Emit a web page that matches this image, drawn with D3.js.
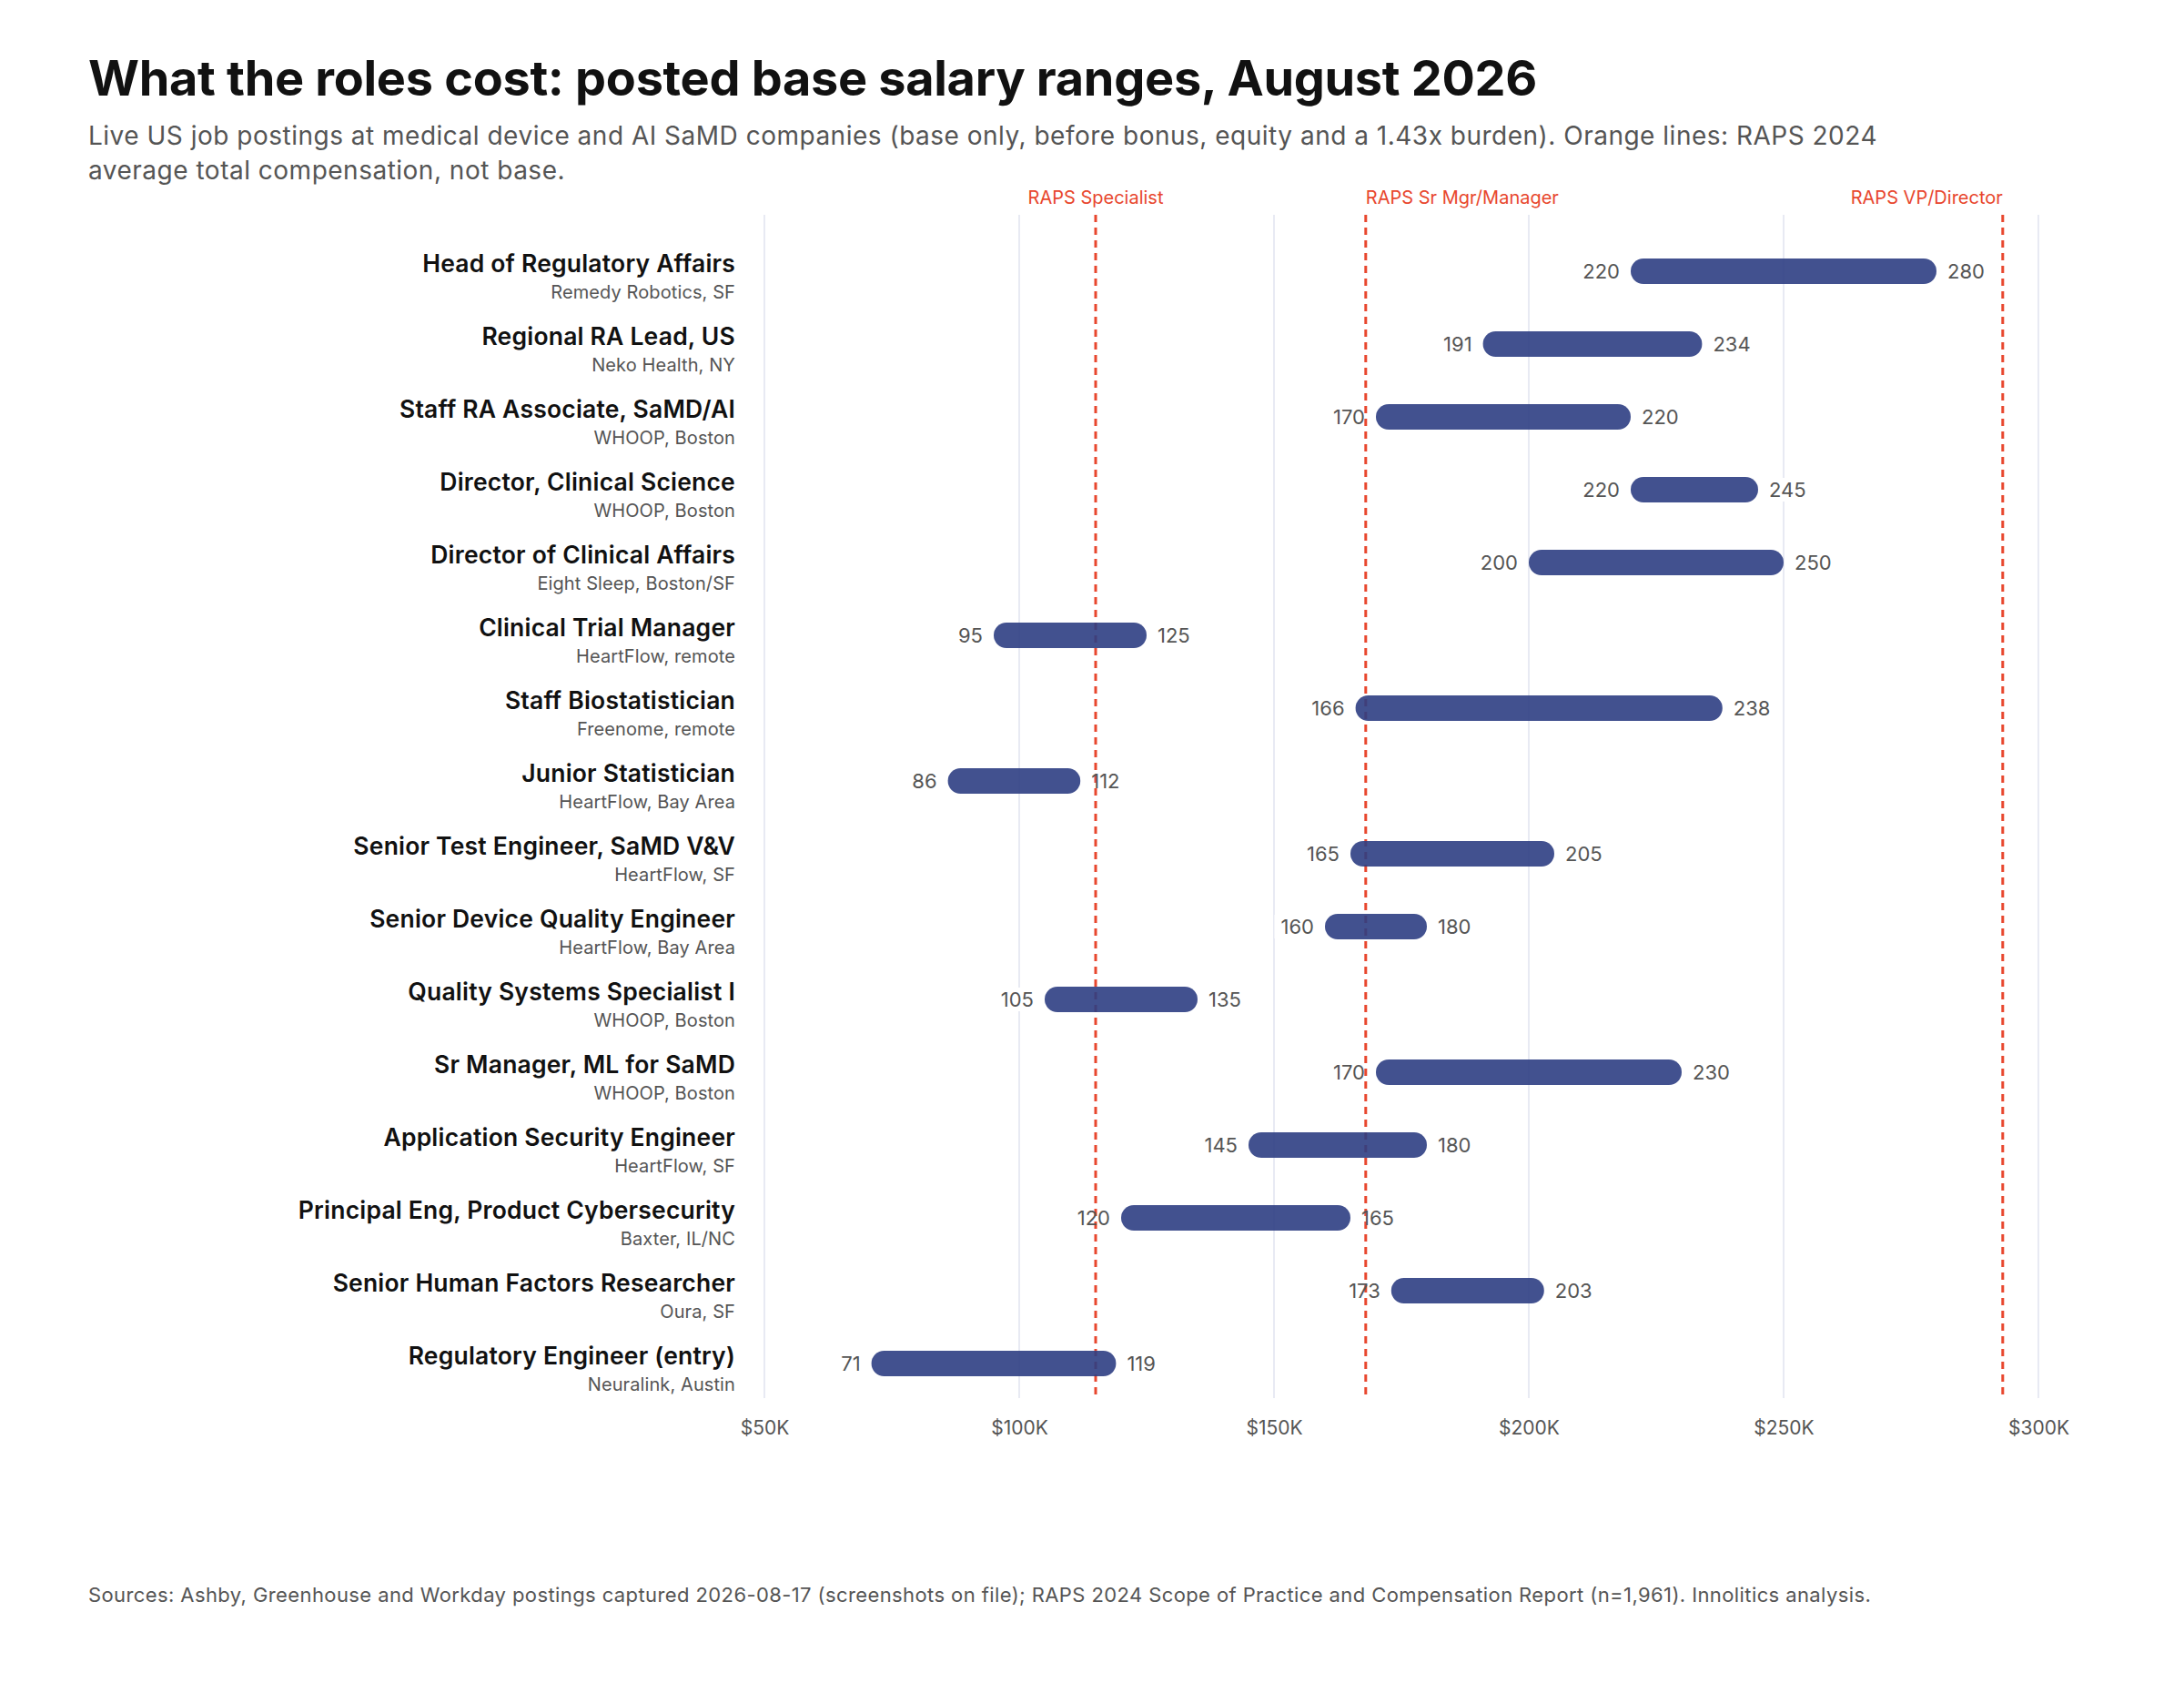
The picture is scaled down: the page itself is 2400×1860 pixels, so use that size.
<!DOCTYPE html>
<html>
<head>
<meta charset="utf-8">
<script src="https://cdn.jsdelivr.net/npm/d3@7"></script>
<style>
  html, body { margin: 0; padding: 0; background: #fff; }
  svg text { font-family: Inter, "Open Sans", sans-serif; }
</style>
</head>
<body>
<div id="chart"></div>
<script>
// roles, top to bottom
const roles = [
  "Head of Regulatory Affairs",
  "Regional RA Lead, US",
  "Staff RA Associate, SaMD/AI",
  "Director, Clinical Science",
  "Director of Clinical Affairs",
  "Clinical Trial Manager",
  "Staff Biostatistician",
  "Junior Statistician",
  "Senior Test Engineer, SaMD V&V",
  "Senior Device Quality Engineer",
  "Quality Systems Specialist I",
  "Sr Manager, ML for SaMD",
  "Application Security Engineer",
  "Principal Eng, Product Cybersecurity",
  "Senior Human Factors Researcher",
  "Regulatory Engineer (entry)"
];
const companies = [
  "Remedy Robotics, SF",
  "Neko Health, NY",
  "WHOOP, Boston",
  "WHOOP, Boston",
  "Eight Sleep, Boston/SF",
  "HeartFlow, remote",
  "Freenome, remote",
  "HeartFlow, Bay Area",
  "HeartFlow, SF",
  "HeartFlow, Bay Area",
  "WHOOP, Boston",
  "WHOOP, Boston",
  "HeartFlow, SF",
  "Baxter, IL/NC",
  "Oura, SF",
  "Neuralink, Austin"
];
// posted base salary, $K
const lows  = [220, 191, 170, 220, 200,  95, 166,  86, 165, 160, 105, 170, 145, 120, 173,  71];
const highs = [280, 234, 220, 245, 250, 125, 238, 112, 205, 180, 135, 230, 180, 165, 203, 119];

// RAPS 2024 average total compensation, $K
const rapsLabels = ["RAPS Specialist", "RAPS Sr Mgr/Manager", "RAPS VP/Director"];
const rapsValues = [115, 168, 293];

const xTicks = [50, 100, 150, 200, 250, 300];

const W = 2400, H = 1860;
const plotLeft = 840, plotRight = 2240, plotTop = 236, plotBottom = 1536;
const barH = 28;

const rows = roles.map((r, i) => ({role: r, company: companies[i], lo: lows[i], hi: highs[i]}));

const svg = d3.select("#chart").append("svg")
  .attr("width", W)
  .attr("height", H);

const x = d3.scaleLinear()
  .domain([50, 300])
  .range([plotLeft, plotRight]);

const y = d3.scaleBand()
  .domain(roles)
  .range([258, 1538]);

const cy = d => y(d.role) + y.bandwidth() / 2;

// title + subtitle
svg.append("text")
  .attr("x", 97).attr("y", 105)
  .attr("font-size", 54).attr("font-weight", 700)
  .attr("fill", "#111")
  .attr("letter-spacing", -0.3)
  .text("What the roles cost: posted base salary ranges, August 2026");

const sub = svg.append("text")
  .attr("font-size", 28).attr("fill", "#555")
  .attr("letter-spacing", 0.5);
sub.append("tspan").attr("x", 97).attr("y", 159)
  .text("Live US job postings at medical device and AI SaMD companies (base only, before bonus, equity and a 1.43x burden). Orange lines: RAPS 2024");
sub.append("tspan").attr("x", 97).attr("y", 197)
  .text("average total compensation, not base.");

// gridlines
svg.append("g")
  .selectAll("line")
  .data(xTicks)
  .join("line")
  .attr("x1", d => x(d)).attr("x2", d => x(d))
  .attr("y1", plotTop).attr("y2", plotBottom)
  .attr("stroke", "#e1e3ef")
  .attr("stroke-width", 1.5);

// x axis labels (no domain, no ticks)
const xAxis = svg.append("g")
  .attr("transform", `translate(0,${plotBottom})`)
  .call(d3.axisBottom(x).tickValues(xTicks).tickSize(0).tickPadding(25).tickFormat(d => "$" + d + "K"));
xAxis.select(".domain").remove();
xAxis.selectAll("text")
  .attr("font-size", 21)
  .attr("fill", "#555")
  .style("font-family", "Inter, sans-serif");

// role labels
const lab = svg.append("g").selectAll("g")
  .data(rows)
  .join("g");
lab.append("text")
  .attr("x", 808).attr("y", d => cy(d) + 1)
  .attr("text-anchor", "end")
  .attr("font-size", 26.5).attr("font-weight", 600)
  .attr("fill", "#111")
  .attr("letter-spacing", 0.2)
  .text(d => d.role);
lab.append("text")
  .attr("x", 808).attr("y", d => cy(d) + 30)
  .attr("text-anchor", "end")
  .attr("font-size", 20)
  .attr("fill", "#555")
  .attr("letter-spacing", 0.1)
  .text(d => d.company);

// value labels with white backing that hides gridlines
const valLabels = [];
rows.forEach(d => {
  valLabels.push({v: d.lo, x: x(d.lo) - 12, anchor: "end", y: cy(d)});
  valLabels.push({v: d.hi, x: x(d.hi) + 12, anchor: "start", y: cy(d)});
});
const bgG = svg.append("g");
const refG = svg.append("g");
const barG = svg.append("g");
const txtG = svg.append("g");

const vt = txtG.selectAll("text")
  .data(valLabels)
  .join("text")
  .attr("x", d => d.x).attr("y", d => d.y + 8)
  .attr("text-anchor", d => d.anchor)
  .attr("font-size", 22)
  .attr("fill", "#555")
  .text(d => d.v);

vt.each(function() {
  const b = this.getBBox();
  bgG.append("rect")
    .attr("x", b.x - 7).attr("y", b.y)
    .attr("width", b.width + 14).attr("height", b.height)
    .attr("fill", "#fff");
});

// RAPS reference lines
const anchors = ["middle", "start", "end"];
refG.selectAll("line")
  .data(rapsValues)
  .join("line")
  .attr("x1", d => x(d)).attr("x2", d => x(d))
  .attr("y1", plotTop).attr("y2", plotBottom)
  .attr("stroke", "#e8472e")
  .attr("stroke-width", 3)
  .attr("stroke-dasharray", "8,6");
refG.selectAll("text")
  .data(rapsValues)
  .join("text")
  .attr("x", d => x(d)).attr("y", 224)
  .attr("text-anchor", (d, i) => anchors[i])
  .attr("font-size", 20)
  .attr("fill", "#e8472e")
  .text((d, i) => rapsLabels[i]);

// range bars
barG.selectAll("rect")
  .data(rows)
  .join("rect")
  .attr("x", d => x(d.lo))
  .attr("y", d => cy(d) - barH / 2)
  .attr("width", d => x(d.hi) - x(d.lo))
  .attr("height", barH)
  .attr("rx", barH / 2)
  .attr("fill", "#2d3e83")
  .attr("fill-opacity", 0.9);

// footnote
svg.append("text")
  .attr("x", 97).attr("y", 1760)
  .attr("font-size", 22)
  .attr("fill", "#555")
  .attr("letter-spacing", 0.4)
  .text("Sources: Ashby, Greenhouse and Workday postings captured 2026-08-17 (screenshots on file); RAPS 2024 Scope of Practice and Compensation Report (n=1,961). Innolitics analysis.");
</script>
</body>
</html>
